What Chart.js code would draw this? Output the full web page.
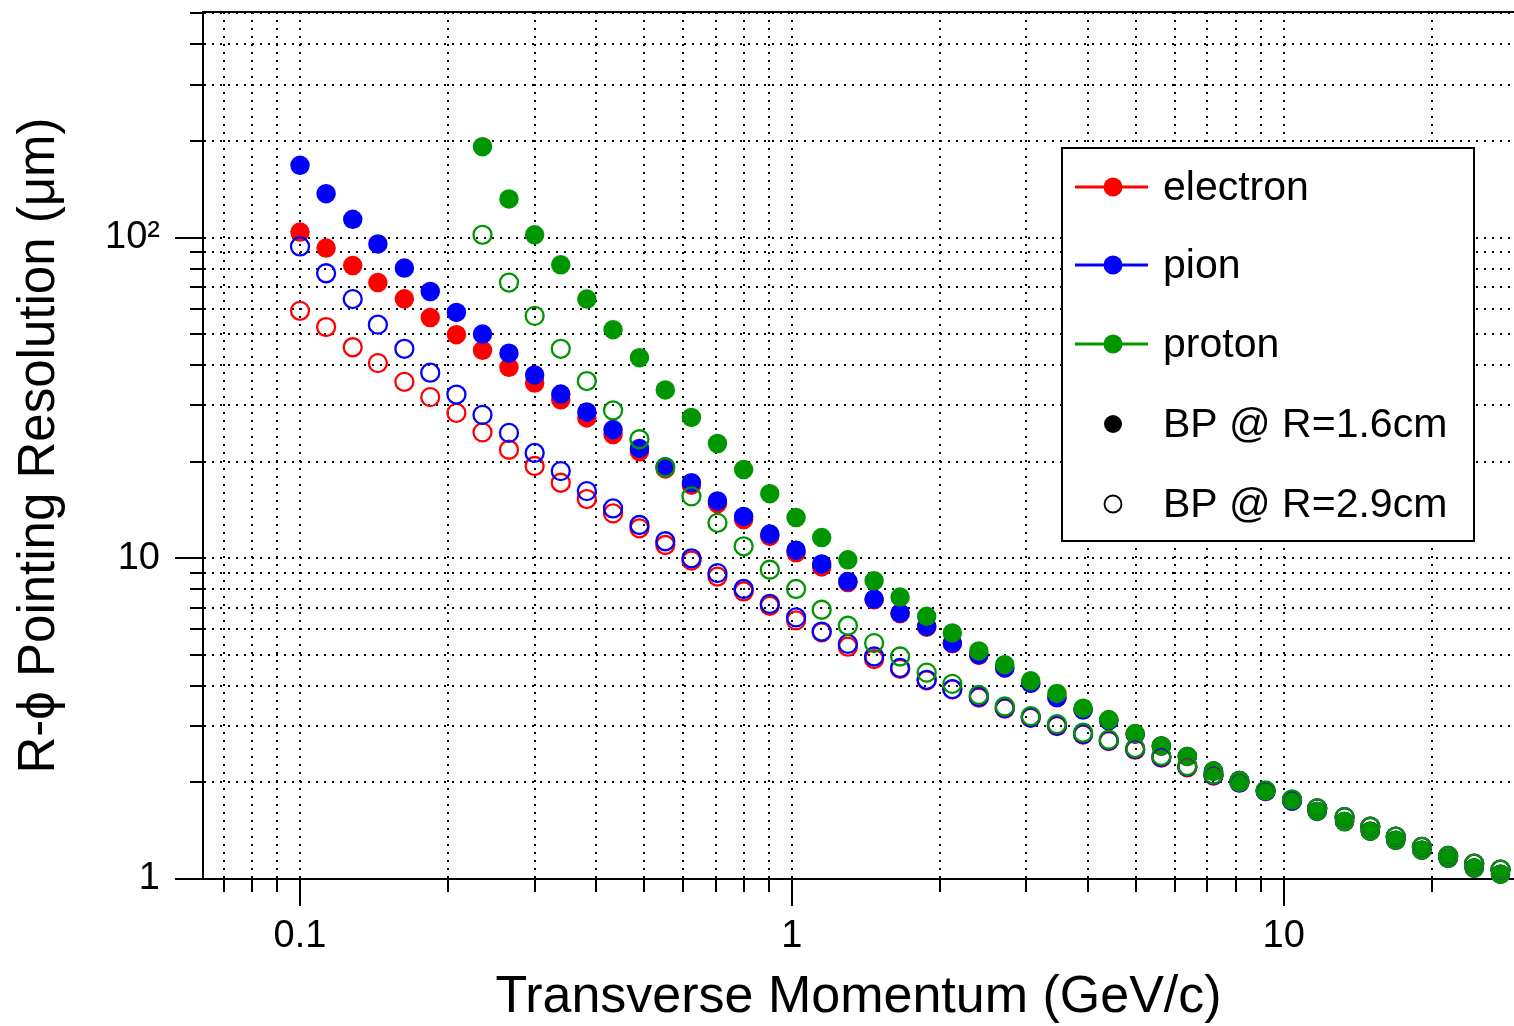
<!DOCTYPE html>
<html>
<head>
<meta charset="utf-8">
<title>R-phi pointing resolution vs transverse momentum</title>
<script src="https://cdn.jsdelivr.net/npm/chart.js@4.4.1/dist/chart.umd.min.js"></script>
<style>
  html, body { margin: 0; padding: 0; background: #fff; overflow: hidden; }
  #wrap { position: relative; width: 1514px; height: 1026px; }
  #resolution-chart { display: block; }
</style>
</head>
<body>
<div id="wrap"><canvas id="resolution-chart"></canvas></div>
<script>
// transverse momentum of each point (GeV/c)
const pt = [0.100, 0.113, 0.128, 0.144, 0.163, 0.184, 0.208, 0.235, 0.266, 0.300,
  0.339, 0.383, 0.433, 0.490, 0.553, 0.625, 0.706, 0.798, 0.902, 1.02,
  1.15, 1.30, 1.47, 1.66, 1.88, 2.12, 2.40, 2.71, 3.06, 3.46,
  3.91, 4.41, 4.99, 5.64, 6.37, 7.20, 8.13, 9.19, 10.4, 11.7,
  13.3, 15.0, 16.9, 19.1, 21.6, 24.4, 27.6];

// beam pipe at R=1.6cm (filled markers), micrometres
const electronBP16 = [104, 92.7, 81.8, 72.4, 64.4, 56.3, 49.8, 44.5, 39.4, 35.2,
  31.2, 27.4, 24.3, 21.5, 19.0, 16.9, 14.8, 13.2, 11.7, 10.4,
  9.4, 8.4, 7.42, 6.72, 6.10, 5.42, 4.98, 4.55, 4.08, 3.68,
  3.37, 3.12, 2.83, 2.60, 2.41, 2.17, 2.03, 1.88, 1.75, 1.625,
  1.51, 1.41, 1.32, 1.23, 1.16, 1.082, 1.035];
const pionBP16 = [168, 137, 114, 95.5, 80.3, 67.9, 58.4, 50.0, 43.6, 37.3,
  32.5, 28.6, 25.2, 22.0, 19.3, 17.2, 15.1, 13.5, 11.9, 10.6,
  9.6, 8.47, 7.46, 6.75, 6.13, 5.44, 5.01, 4.55, 4.08, 3.68,
  3.37, 3.12, 2.83, 2.60, 2.41, 2.17, 2.03, 1.88, 1.75, 1.625,
  1.51, 1.41, 1.32, 1.23, 1.16, 1.082, 1.035];
// proton starts at the 8th momentum point
const protonBP16 = [192, 132, 102, 82.2, 64.3, 51.6, 42.2, 33.5, 27.5, 22.8,
  18.9, 15.9, 13.4, 11.6, 9.89, 8.51, 7.57, 6.59, 5.85, 5.14,
  4.66, 4.15, 3.79, 3.41, 3.14, 2.84, 2.60, 2.41, 2.17, 2.03,
  1.88, 1.75, 1.625, 1.51, 1.41, 1.32, 1.23, 1.16, 1.082, 1.035];

// beam pipe at R=2.9cm (open markers)
const electronBP29 = [59.1, 52.6, 45.5, 40.6, 35.5, 31.8, 28.4, 24.7, 21.8, 19.4,
  17.2, 15.3, 13.8, 12.4, 11.0, 9.83, 8.77, 7.88, 7.11, 6.40,
  5.88, 5.30, 4.85, 4.52, 4.16, 3.90, 3.68, 3.40, 3.18, 3.00,
  2.82, 2.69, 2.53, 2.39, 2.23, 2.10, 2.00, 1.88, 1.76, 1.66,
  1.56, 1.455, 1.355, 1.26, 1.18, 1.116, 1.07];
const pionBP29 = [93.8, 77.4, 64.3, 53.5, 45.0, 37.9, 32.4, 28.0, 24.6, 21.3,
  18.7, 16.2, 14.3, 12.7, 11.3, 10.0, 8.99, 8.02, 7.21, 6.54,
  5.91, 5.41, 4.94, 4.55, 4.18, 3.91, 3.70, 3.41, 3.19, 3.01,
  2.83, 2.70, 2.54, 2.40, 2.24, 2.11, 2.00, 1.88, 1.76, 1.66,
  1.56, 1.455, 1.355, 1.26, 1.18, 1.116, 1.07];
const protonBP29 = [102, 72.4, 57.0, 45.0, 35.7, 28.9, 23.5, 19.2, 15.6, 12.9,
  10.9, 9.21, 8.02, 6.91, 6.16, 5.44, 4.94, 4.40, 4.06, 3.75,
  3.45, 3.22, 3.04, 2.86, 2.72, 2.56, 2.42, 2.25, 2.12, 2.01,
  1.89, 1.77, 1.66, 1.56, 1.455, 1.355, 1.26, 1.18, 1.116, 1.07];

// grid / tick positions and the labelled decades
const xGrid = [0.07, 0.08, 0.09, 0.1, 0.2, 0.3, 0.4, 0.5, 0.6, 0.7, 0.8, 0.9,
  1, 2, 3, 4, 5, 6, 7, 8, 9, 10, 20];
const yGrid = [1, 2, 3, 4, 5, 6, 7, 8, 9, 10, 20, 30, 40, 50, 60, 70, 80, 90,
  100, 200, 300, 400, 500];
const xMajor = [0.1, 1, 10];
const xMajorText = ["0.1", "1", "10"];
const yMajor = [1, 10, 100];
const yMajorText = ["1", "10", "10\u00B2"];

const legendNames = ["electron", "pion", "proton", "BP @ R=1.6cm", "BP @ R=2.9cm"];
const RED = "#ff0000", BLUE = "#0000ff", GREEN = "#009600";
const FONT = "'Liberation Sans', Arial, Helvetica, sans-serif";

function points(values) {
  // series that start late line up with the last momentum points
  const xs = pt.slice(pt.length - values.length);
  return values.map((v, i) => ({ x: xs[i], y: v }));
}

function filled(label, values, color, order) {
  return { label: label, data: points(values), order: order, clip: false,
    pointStyle: "circle", pointRadius: 9, borderWidth: 1.5,
    backgroundColor: color, borderColor: color };
}

function open(label, values, color, order) {
  return { label: label, data: points(values), order: order, clip: false,
    pointStyle: "circle", pointRadius: 9, borderWidth: 2.3,
    backgroundColor: "rgba(0,0,0,0)", borderColor: color };
}

// lower order is drawn on top
const datasets = [
  filled("electron 1.6cm", electronBP16, RED, 6),
  filled("pion 1.6cm", pionBP16, BLUE, 5),
  filled("proton 1.6cm", protonBP16, GREEN, 4),
  open("electron 2.9cm", electronBP29, RED, 3),
  open("pion 2.9cm", pionBP29, BLUE, 2),
  open("proton 2.9cm", protonBP29, GREEN, 1),
];

const legendBox = { x: 1062, y: 148, w: 412, h: 393, markX: 1113, lineX0: 1075, lineX1: 1148, textX: 1163,
  rowY: [187, 265, 344, 424, 504] };

const framePlugin = {
  id: "frame",
  afterDraw(chart) {
    const { ctx, chartArea: a, scales: { x, y } } = chart;
    ctx.save();
    ctx.strokeStyle = "#000";
    ctx.lineWidth = 2;
    ctx.beginPath();
    ctx.moveTo(a.left, a.top);
    ctx.lineTo(a.right, a.top);
    // long ticks at the decades
    xMajor.forEach(v => {
      const px = Math.round(x.getPixelForValue(v));
      ctx.moveTo(px, a.bottom);
      ctx.lineTo(px, a.bottom + 27);
    });
    yMajor.forEach(v => {
      const py = Math.round(y.getPixelForValue(v));
      ctx.moveTo(a.left - 28, py);
      ctx.lineTo(a.left, py);
    });
    ctx.stroke();

    // legend box
    const L = legendBox;
    ctx.fillStyle = "#fff";
    ctx.fillRect(L.x, L.y, L.w, L.h);
    ctx.strokeRect(L.x, L.y, L.w, L.h);
    const colors = [RED, BLUE, GREEN];
    colors.forEach((c, i) => {
      const ry = L.rowY[i];
      ctx.strokeStyle = c;
      ctx.lineWidth = 3;
      ctx.beginPath();
      ctx.moveTo(L.lineX0, ry);
      ctx.lineTo(L.lineX1, ry);
      ctx.stroke();
      ctx.fillStyle = c;
      ctx.beginPath();
      ctx.arc(L.markX, ry, 9.5, 0, Math.PI * 2);
      ctx.fill();
    });
    ctx.fillStyle = "#000";
    ctx.beginPath();
    ctx.arc(L.markX, L.rowY[3], 9, 0, Math.PI * 2);
    ctx.fill();
    ctx.strokeStyle = "#000";
    ctx.lineWidth = 1.8;
    ctx.beginPath();
    ctx.arc(L.markX, L.rowY[4], 8.5, 0, Math.PI * 2);
    ctx.stroke();

    ctx.font = "41px " + FONT;
    ctx.textAlign = "left";
    ctx.textBaseline = "middle";
    ctx.fillStyle = "#000";
    legendNames.forEach((name, i) => ctx.fillText(name, L.textX, L.rowY[i] + 2));
    ctx.restore();
  }
};

function gridOpts() {
  return { color: "#000", lineWidth: 2, tickLength: 13, tickWidth: 2, tickColor: "#000", tickBorderDash: [] };
}

function noPadding(s) {
  s.paddingTop = 0; s.paddingBottom = 0; s.paddingLeft = 0; s.paddingRight = 0;
}

const resolutionChart = new Chart(document.getElementById("resolution-chart"), {
  type: "scatter",
  data: { datasets: datasets },
  options: {
    responsive: true,
    maintainAspectRatio: false,
    animation: false,
    layout: { autoPadding: false, padding: { top: 12, right: 0, bottom: 0, left: 0 } },
    plugins: { legend: { display: false }, tooltip: { enabled: false } },
    scales: {
      x: {
        type: "logarithmic",
        min: 0.0635,
        max: 29.4,
        afterBuildTicks: s => { s.ticks = xGrid.map(v => ({ value: v })); },
        afterFit: s => { s.height = 147; noPadding(s); },
        grid: gridOpts(),
        border: { display: true, color: "#000", width: 2, dash: [2, 6] },
        ticks: {
          autoSkip: false, maxRotation: 0, padding: 22, color: "#000",
          font: { family: FONT, size: 38 },
          callback: v => { const i = xMajor.indexOf(v); return i < 0 ? "" : xMajorText[i]; }
        },
        title: { display: true, text: "Transverse Momentum (GeV/c)", color: "#000",
          font: { family: FONT, size: 52, lineHeight: 1 }, padding: { top: 0, bottom: 2 } }
      },
      y: {
        type: "logarithmic",
        min: 1,
        max: 505,
        afterBuildTicks: s => { s.ticks = yGrid.map(v => ({ value: v })); },
        afterFit: s => { s.width = 203; noPadding(s); },
        grid: gridOpts(),
        border: { display: true, color: "#000", width: 2, dash: [2, 6] },
        ticks: {
          autoSkip: false, padding: 30, color: "#000",
          font: { family: FONT, size: 38 },
          callback: v => { const i = yMajor.indexOf(v); return i < 0 ? "" : yMajorText[i]; }
        },
        title: { display: true, text: "R-\u03D5 Pointing Resolution (\u03BCm)", color: "#000",
          font: { family: FONT, size: 51, lineHeight: 1 }, padding: { top: 14, bottom: 0 } }
      }
    }
  },
  plugins: [framePlugin]
});
</script>
</body>
</html>
